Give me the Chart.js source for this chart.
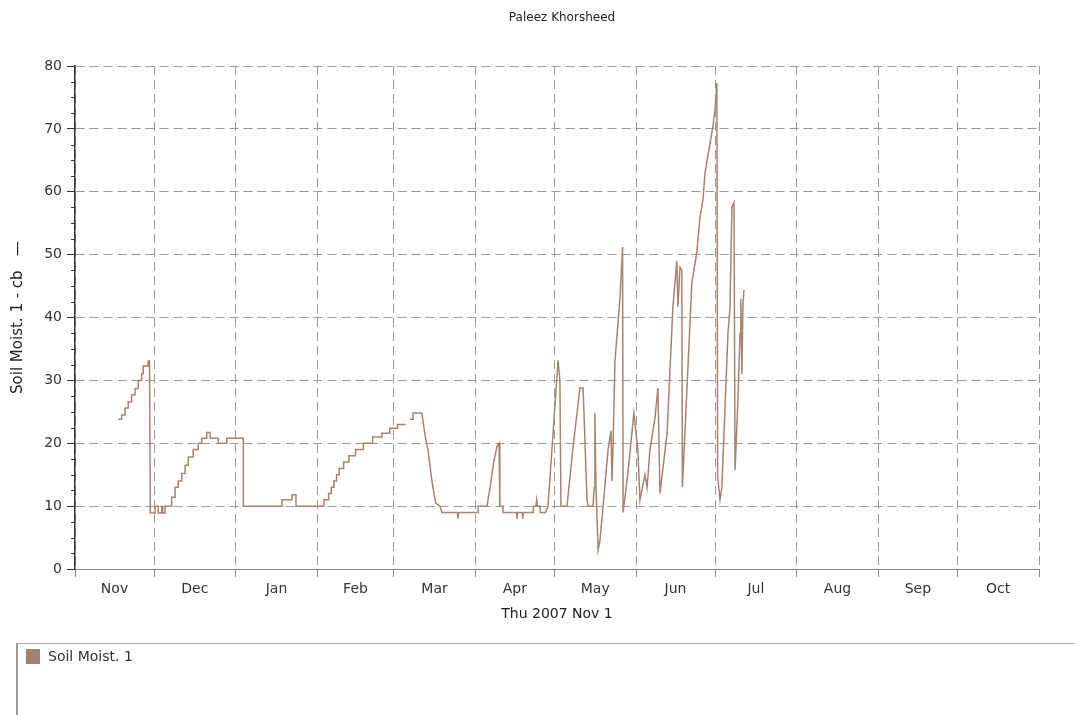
<!DOCTYPE html>
<html>
<head>
<meta charset="utf-8">
<script src="https://cdn.jsdelivr.net/npm/chart.js@4"></script>
<style>
html,body{margin:0;padding:0;background:#fff;}
#wrap{position:relative;width:1075px;height:715px;overflow:hidden;background:#fff;}
#c{position:absolute;left:0;top:0;}
#legend{position:absolute;left:16px;top:643px;width:1100px;height:120px;border-top:1px solid #aaa;border-left:2px solid #999;box-sizing:border-box;font-family:'DejaVu Sans',sans-serif;font-size:14px;color:#333;}
#legend .sw{position:absolute;left:8px;top:5px;width:14px;height:15px;background:#a08370;}
#legend .tx{position:absolute;left:30px;top:4px;line-height:16px;}
</style>
</head>
<body>
<div id="wrap">
<canvas id="c" width="1075" height="715"></canvas>
<div id="legend"><span class="sw"></span><span class="tx" id="legendText"></span></div>
</div>
<script>
const chartTitle = 'Paleez Khorsheed';
const seriesName = 'Soil Moist. 1';
const yAxisTitle = 'Soil Moist. 1 - cb   \u2014';
const xAxisTitle = 'Thu 2007 Nov 1';
const monthLabels = ['Nov','Dec','Jan','Feb','Mar','Apr','May','Jun','Jul','Aug','Sep','Oct'];
const monthStartDays = [0,30,61,92,121,152,182,213,243,274,305,335,366];
const yMajorTicks = [0,10,20,30,40,50,60,70,80];

// days since Thu 2007 Nov 1
const days = [
16.4,17.7,17.7,19,19,20.2,20.2,21.5,21.5,22.8,22.8,24,24,25.3,25.3,25.9,25.9,27.8,27.8,28.3,
28.6,30.4,30.4,31.6,31.6,32.9,32.9,33.3,33.3,34.2,34.2,36.7,
36.7,38,38,39.2,39.2,40.5,40.5,41.8,41.8,43,43,44.9,44.9,46.8,46.8,
48.1,48.1,50,50,51.3,51.3,54.4,54.4,57.6,57.6,63.9,63.9,
78.6,78.6,82.4,82.4,83.9,83.9,92.3,
94.5,94.5,96.3,96.3,97.3,97.3,98.3,98.3,99.3,99.3,100.3,100.3,102,102,104,104,106.5,106.5,109.5,109.5,113,113,116.5,116.5,119.5,119.5,122.5,122.5,125.5,
126.3,
127.2,128.3,128.3,131.7,133,134,135.5,136.3,137,138.6,139.3,145.2,145.4,145.6,153,153,156.4,157.6,159,160.2,161,161.3,162.5,162.5,
167.6,167.8,168,169.8,170,170.2,174,174,175,175.3,175.6,176.5,176.7,178.6,
179.6,181.5,183.4,184.1,184.5,186.8,189.1,191.7,192.9,194.4,194.8,196.7,197.1,197.4,197.8,198.2,198.6,199.3,200.5,
202.4,203.5,203.9,204.3,205,206.9,207.9,208.1,209.9,212.2,213.7,214.5,216.4,217.2,218.3,220.2,221.3,222.1,224.8,
227,228.5,228.9,229.7,230.4,230.6,234.2,236.1,237.3,238.4,239.2,241.1,242.2,243,243.7,244,244.9,245.6,247.9,
248.7,249.4,250.2,250.6,251.7,252.5,252.8,253.2,253.6,254
];
const moisture = [
23.8,23.8,24.5,24.5,25.6,25.6,26.6,26.6,27.7,27.7,28.7,28.7,30,30,31.1,31.1,32.3,32.3,33.1,33.1,
8.9,8.9,10,10,8.9,8.9,10,10,8.9,8.9,10,10,
11.4,11.4,13,13,14,14,15.2,15.2,16.5,16.5,17.8,17.8,19,19,20,
20,20.8,20.8,21.7,21.7,20.8,20.8,20,20,20.8,20.8,10,
10,11,11,11.8,11.8,10,10,
10,11,11,12,12,13,13,14,14,15,15,16,16,17,17,18,18,19,19,20,20,21,21,21.6,21.6,22.4,22.4,23,23,
null,
23.8,23.8,24.8,24.8,21,19,14,12,10.5,10,9,9,8,9,9,10,10,13,17,19.5,20,10,10,9,
9,8,9,9,8,9,9,10,10,11,10,10,9,9,
10,21.6,33.2,30,10,10,19.4,28.8,28.8,11,10,10,12.9,24.8,13,8,3,4.5,10,
19,22,14,20,33,43,51.2,9,15.2,24.8,19,11,15,13,19,24,28.8,12,21.6,
41.7,49,41.7,48,47.5,13,45.5,50.4,56,58.7,63,67.7,70.3,73,77.3,14.6,11,13,37.5,
41.7,57.6,58.3,15.7,27,37.5,43,31,42,44.4
];

document.getElementById('legendText').textContent = seriesName;

const FONT = 'DejaVu Sans';
const monthMids = monthLabels.map((m, i) => (monthStartDays[i] + monthStartDays[i + 1]) / 2);
const isBoundary = v => monthStartDays.includes(v);
const isMajorY = v => yMajorTicks.includes(v);

const minorTicks = {
  id: 'minorTicks',
  afterDraw(chart) {
    const y = chart.scales.y, ctx = chart.ctx;
    ctx.save();
    ctx.strokeStyle = '#333';
    ctx.lineWidth = 1;
    y.ticks.forEach(t => {
      if (!isMajorY(t.value)) {
        const py = Math.round(y.getPixelForValue(t.value)) + 0.5;
        ctx.beginPath();
        ctx.moveTo(y.right - 4, py);
        ctx.lineTo(y.right, py);
        ctx.stroke();
      }
    });
    ctx.restore();
  }
};

const titleText = {
  id: 'titleText',
  afterDraw(chart) {
    const a = chart.chartArea, ctx = chart.ctx;
    ctx.save();
    ctx.fillStyle = '#222';
    ctx.font = '12px "' + FONT + '"';
    ctx.textAlign = 'center';
    ctx.textBaseline = 'middle';
    ctx.fillText(chartTitle, (a.left + a.right) / 2 + 5, a.top - 48);
    ctx.restore();
  }
};

new Chart(document.getElementById('c'), {
  type: 'line',
  data: {
    datasets: [{
      label: seriesName,
      data: days.map((d, i) => ({x: d, y: moisture[i]})),
      borderColor: '#a88370',
      backgroundColor: '#a08370',
      borderWidth: 1.5,
      pointRadius: 0,
      tension: 0,
      spanGaps: false,
      fill: false
    }]
  },
  options: {
    responsive: false,
    animation: false,
    devicePixelRatio: 1,
    layout: {padding: {left: 0, right: 36, top: 66, bottom: 90}},
    plugins: {
      legend: {display: false},
      tooltip: {enabled: false},
      title: {display: false}
    },
    scales: {
      x: {
        type: 'linear',
        min: 0,
        max: 366,
        afterBuildTicks: s => {
          const vals = monthStartDays.concat(monthMids).sort((a, b) => a - b);
          s.ticks = vals.map(v => ({value: v}));
        },
        afterFit: s => { s.height = 56; },
        ticks: {
          autoSkip: false,
          maxRotation: 0,
          padding: 4,
          color: '#333',
          font: {family: FONT, size: 14},
          callback: v => {
            const i = monthMids.indexOf(v);
            return i >= 0 ? monthLabels[i] : '';
          }
        },
        grid: {
          color: c => (c.tick && isBoundary(c.tick.value)) ? '#9a9a9a' : 'rgba(0,0,0,0)',
          tickColor: c => (c.tick && isBoundary(c.tick.value)) ? '#8a8a8a' : 'rgba(0,0,0,0)',
          tickLength: 8,
          lineWidth: 1
        },
        border: {display: true, color: '#8a8a8a', width: 1, dash: [9, 5]},
        title: {
          display: true,
          text: xAxisTitle,
          color: '#222',
          font: {family: FONT, size: 14},
          padding: {top: 0, bottom: 2.5}
        }
      },
      y: {
        type: 'linear',
        min: 0,
        max: 80,
        afterFit: s => { s.width = 75; },
        ticks: {
          stepSize: 2.5,
          autoSkip: false,
          padding: 5,
          color: '#333',
          font: {family: FONT, size: 14},
          callback: v => isMajorY(v) ? String(v) : ''
        },
        grid: {
          color: c => (c.tick && isMajorY(c.tick.value)) ? '#9a9a9a' : 'rgba(0,0,0,0)',
          tickColor: c => (c.tick && isMajorY(c.tick.value)) ? '#333' : 'rgba(0,0,0,0)',
          tickLength: 8,
          lineWidth: 1
        },
        border: {display: true, color: '#333', width: 1.5, dash: [9, 5]},
        title: {
          display: true,
          text: yAxisTitle,
          color: '#222',
          font: {family: FONT, size: 15},
          padding: {top: 9, bottom: 0}
        }
      }
    }
  },
  plugins: [minorTicks, titleText]
});
</script>
</body>
</html>
